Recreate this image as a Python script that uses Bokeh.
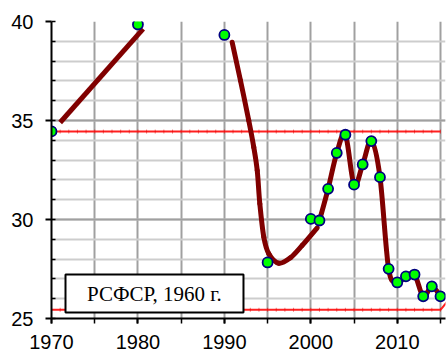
import numpy as np
from bokeh.plotting import figure
from bokeh.models import SingleIntervalTicker, BoxAnnotation, Label, Range1d
from bokeh.core.properties import value
from bokeh.embed import file_html
from bokeh.resources import INLINE

# observed points (green markers)
years = [1970, 1980, 1990, 1995, 2000, 2001, 2002, 2003, 2004, 2005, 2006,
         2007, 2008, 2009, 2010, 2011, 2012, 2013, 2014, 2015]
vals = [34.45, 39.85, 39.32, 27.83, 30.03, 29.95, 31.55, 33.36, 34.28, 31.76,
        32.78, 33.96, 32.14, 27.51, 26.82, 27.13, 27.22, 26.12, 26.62, 26.12]

# thick trend pieces
trend_a_x = [1971.0, 1980.6]
trend_a_y = [34.9, 39.63]
trend_b_x = [1990.9, 1991.86, 1992.82, 1993.4, 1993.8, 1994.1, 1994.56, 1995.14,
             1996.3, 1997.65, 1999.0, 2000.74]
trend_b_y = [38.95, 37.02, 35.0, 33.65, 32.47, 30.79, 29.11, 28.27,
             27.79, 28.07, 28.69, 29.58]
smooth_from = 2001

# reference (red) levels
ref_years = list(range(1970, 2016))
ref_top = 34.44
ref_bottom = 25.44
ref_bottom_next = (2016, 25.97)

label_text = "РСФСР, 1960 г."

DARK = "#800000"

p = figure(width=446, height=357, x_range=Range1d(1970, 2015.58),
           y_range=Range1d(25, 40), output_backend="svg", toolbar_location=None,
           min_border_left=51, min_border_right=1, min_border_top=21,
           min_border_bottom=39)
p.outline_line_color = None
p.background_fill_color = "white"

# axes
p.xaxis.ticker = SingleIntervalTicker(interval=10, num_minor_ticks=2)
p.yaxis.ticker = SingleIntervalTicker(interval=5, num_minor_ticks=5)
for ax in (p.xaxis[0], p.yaxis[0]):
    ax.axis_line_color = "black"
    ax.axis_line_width = 2
    ax.major_tick_line_color = "black"
    ax.major_tick_line_width = 2
    ax.minor_tick_line_color = "black"
    ax.minor_tick_line_width = 1.5
    ax.major_label_text_font = "Liberation Sans"
    ax.major_label_text_font_size = "20px"
    ax.major_label_text_color = "black"
p.xaxis.major_tick_out = 5
p.xaxis.major_tick_in = 0
p.xaxis.minor_tick_out = 5
p.xaxis.minor_tick_in = 0
p.xaxis.major_label_standoff = 11
p.yaxis.major_tick_out = 6
p.yaxis.major_tick_in = 0
p.yaxis.minor_tick_out = 0
p.yaxis.minor_tick_in = 4
p.yaxis.major_label_standoff = 12

# grids
p.xgrid.ticker = SingleIntervalTicker(interval=5)
p.xgrid.grid_line_color = "#a0a0a0"
p.xgrid.grid_line_width = 2
p.ygrid.grid_line_color = "#a0a0a0"
p.ygrid.grid_line_width = 2
p.ygrid.minor_grid_line_color = "#cdcdcd"
p.ygrid.minor_grid_line_width = 2

# red reference lines
p.line(ref_years, [ref_top] * len(ref_years), line_color="#ff2020", line_width=2)
p.line(ref_years + [ref_bottom_next[0]],
       [ref_bottom] * len(ref_years) + [ref_bottom_next[1]],
       line_color="#ff2020", line_width=2)
p.scatter(ref_years, [ref_top] * len(ref_years), marker="dash", angle=np.pi / 2,
          size=4, line_color="#e00000", line_alpha=0.5)
p.scatter(ref_years, [ref_bottom] * len(ref_years), marker="dash", angle=np.pi / 2,
          size=4, line_color="#e00000", line_alpha=0.5)


def bez(xs, ys):
    xs = np.asarray(xs, float)
    ys = np.asarray(ys, float)
    n = len(xs)
    px = np.concatenate([[xs[0]], xs, [xs[-1]]])
    py = np.concatenate([[ys[0]], ys, [ys[-1]]])
    x0, y0, x1, y1, cx0, cy0, cx1, cy1 = [], [], [], [], [], [], [], []
    for i in range(n - 1):
        j = i + 1
        x0.append(px[j]); y0.append(py[j])
        x1.append(px[j + 1]); y1.append(py[j + 1])
        cx0.append(px[j] + (px[j + 1] - px[j - 1]) / 6)
        cy0.append(py[j] + (py[j + 1] - py[j - 1]) / 6)
        cx1.append(px[j + 1] - (px[j + 2] - px[j]) / 6)
        cy1.append(py[j + 1] - (py[j + 2] - py[j]) / 6)
    p.bezier(x0=x0, y0=y0, x1=x1, y1=y1, cx0=cx0, cy0=cy0, cx1=cx1, cy1=cy1,
             line_color=DARK, line_width=5, line_cap="round")


p.line(trend_a_x, trend_a_y, line_color=DARK, line_width=5)
bez(trend_b_x, trend_b_y)
k = years.index(smooth_from)
bez(years[k:], vals[k:])

p.scatter(years, vals, size=10, fill_color="#00ff00", line_color="#000080",
          line_width=1.8)

box = BoxAnnotation(left=1971.62, right=1992.21, bottom=25.30, top=27.22,
                    fill_color="white", fill_alpha=1.0, line_color="black",
                    line_width=2, line_alpha=1.0)
p.add_layout(box)
p.add_layout(Label(x=1981.9, y=26.26, text=label_text, text_align="center",
                   text_baseline="middle", text_font="Liberation Serif",
                   text_font_size="21px", text_color="black"))

open("out.html", "w").write(file_html(p, INLINE))
